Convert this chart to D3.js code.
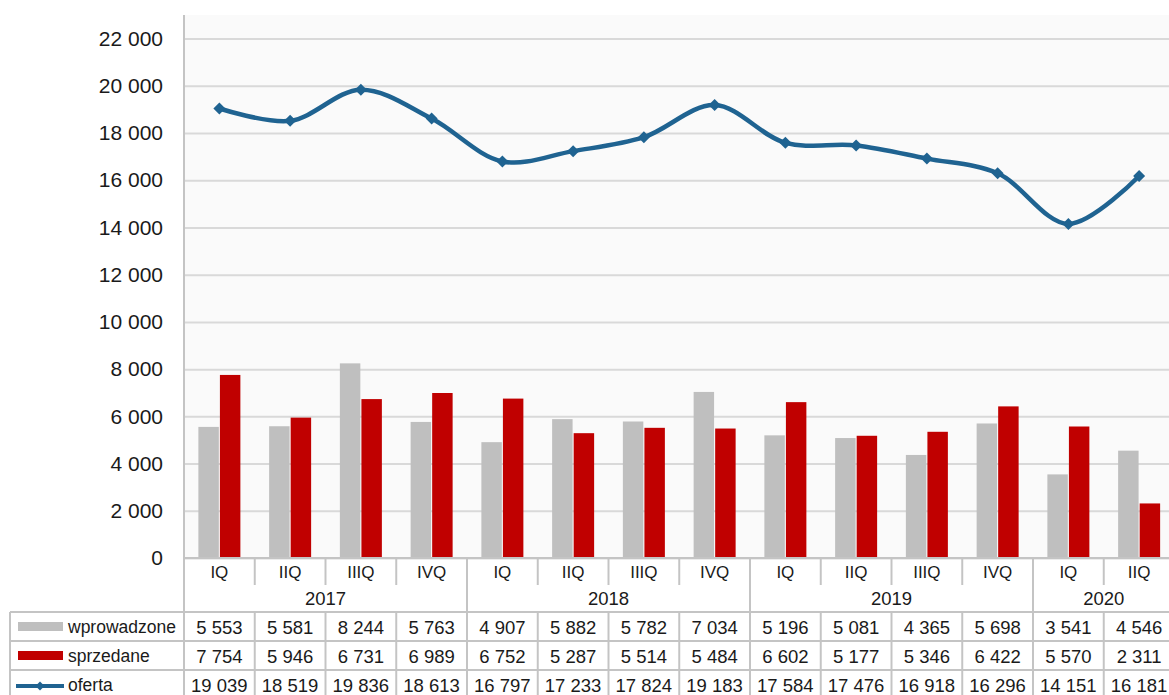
<!DOCTYPE html>
<meta charset="utf-8">
<html>
<head>
    <script src="https://d3js.org/d3.v7.min.js"></script>
    <style>
        body { margin: 0; background: #fff; overflow: hidden; }
        text { font-family: "Liberation Sans", Arial, sans-serif; fill: #1a1a1a; }
    </style>
</head>
<body>
<script>
    // data
    var quarters = ["IQ", "IIQ", "IIIQ", "IVQ", "IQ", "IIQ", "IIIQ", "IVQ", "IQ", "IIQ", "IIIQ", "IVQ", "IQ", "IIQ"];
    var years = [
        {label: "2017", n: 4},
        {label: "2018", n: 4},
        {label: "2019", n: 4},
        {label: "2020", n: 2}
    ];
    var wprowadzone = [5553, 5581, 8244, 5763, 4907, 5882, 5782, 7034, 5196, 5081, 4365, 5698, 3541, 4546];
    var sprzedane = [7754, 5946, 6731, 6989, 6752, 5287, 5514, 5484, 6602, 5177, 5346, 6422, 5570, 2311];
    var oferta = [19039, 18519, 19836, 18613, 16797, 17233, 17824, 19183, 17584, 17476, 16918, 16296, 14151, 16181];
    var yTicks = [0, 2000, 4000, 6000, 8000, 10000, 12000, 14000, 16000, 18000, 20000, 22000];

    var width = 1169, height = 695;
    var plot = {left: 184, right: 1174.5, top: 15, bottom: 558};
    var rowH = 29;
    var tableTop = 612;
    var gridCol = "#d9d9d9", borderCol = "#c4c4c4";
    var grey = "#bfbfbf", red = "#c00000", blue = "#1f6391";

    var fmt = function(v) { return d3.format(",")(v).replace(/,/g, " "); };

    var svg = d3.select("body").append("svg")
        .attr("width", width)
        .attr("height", height);

    var idx = d3.range(quarters.length);

    var x = d3.scaleBand()
        .domain(idx)
        .range([plot.left, plot.right]);

    var x1 = d3.scaleBand()
        .domain(["w", "s"])
        .range([x.bandwidth() / 2 - 21, x.bandwidth() / 2 + 21])
        .paddingInner(0.05);

    var y = d3.scaleLinear()
        .domain([0, 23000])
        .range([plot.bottom, plot.top]);

    // plot background
    svg.append("rect")
        .attr("x", plot.left)
        .attr("y", plot.top)
        .attr("width", plot.right - plot.left)
        .attr("height", plot.bottom - plot.top)
        .attr("fill", "#fafafa");

    // gridlines + y labels
    var yAxis = d3.axisLeft(y)
        .tickValues(yTicks)
        .tickSize(-(plot.right - plot.left))
        .tickPadding(21)
        .tickFormat(fmt);

    var gy = svg.append("g")
        .attr("transform", `translate(${plot.left},0)`)
        .call(yAxis);
    gy.select(".domain").remove();
    gy.selectAll(".tick line")
        .attr("stroke", gridCol)
        .attr("stroke-width", 2);
    gy.selectAll(".tick text")
        .attr("font-size", 21)
        .attr("fill", "#1a1a1a");

    // bars
    var groups = svg.append("g").selectAll("g")
        .data(idx)
        .join("g")
        .attr("transform", function(i) { return `translate(${x(i)},0)`; });

    groups.append("rect")
        .attr("x", x1("w"))
        .attr("width", x1.bandwidth())
        .attr("y", function(i) { return y(wprowadzone[i]); })
        .attr("height", function(i) { return y(0) - y(wprowadzone[i]); })
        .attr("fill", grey);

    groups.append("rect")
        .attr("x", x1("s"))
        .attr("width", x1.bandwidth())
        .attr("y", function(i) { return y(sprzedane[i]); })
        .attr("height", function(i) { return y(0) - y(sprzedane[i]); })
        .attr("fill", red);

    // smooth line
    var cx = function(i) { return x(i) + x.bandwidth() / 2; };
    svg.append("path")
        .datum(idx)
        .attr("fill", "none")
        .attr("stroke", blue)
        .attr("stroke-width", 4.5)
        .attr("d", d3.line()
            .curve(d3.curveCatmullRom.alpha(0.5))
            .x(cx)
            .y(function(i) { return y(oferta[i]); }));

    // diamond = square turned 45deg
    svg.append("g").selectAll("path")
        .data(idx)
        .join("path")
        .attr("d", d3.symbol().type(d3.symbolSquare).size(72))
        .attr("transform", function(i) { return `translate(${cx(i)},${y(oferta[i])}) rotate(45)`; })
        .attr("fill", blue);

    // left axis line and baseline
    svg.append("line")
        .attr("x1", plot.left).attr("x2", plot.left)
        .attr("y1", plot.top).attr("y2", height)
        .attr("stroke", borderCol).attr("stroke-width", 2);
    svg.append("line")
        .attr("x1", plot.left).attr("x2", width)
        .attr("y1", plot.bottom).attr("y2", plot.bottom)
        .attr("stroke", borderCol).attr("stroke-width", 2);

    // quarter row
    var t = svg.append("g");
    t.selectAll(".q")
        .data(idx)
        .join("text")
        .attr("x", cx)
        .attr("y", 578)
        .attr("text-anchor", "middle")
        .attr("font-size", 17)
        .text(function(i) { return quarters[i]; });

    t.selectAll(".qsep")
        .data(idx.slice(1))
        .join("line")
        .attr("x1", function(i) { return x(i); })
        .attr("x2", function(i) { return x(i); })
        .attr("y1", plot.bottom)
        .attr("y2", 585)
        .attr("stroke", borderCol).attr("stroke-width", 2);

    // year row
    var start = 0;
    years.forEach(function(yr) {
        var x0 = x(start), xe = x0 + yr.n * x.bandwidth();
        t.append("text")
            .attr("x", (x0 + xe) / 2)
            .attr("y", 605)
            .attr("text-anchor", "middle")
            .attr("font-size", 18.5)
            .text(yr.label);
        t.append("line")
            .attr("x1", xe).attr("x2", xe)
            .attr("y1", plot.bottom).attr("y2", tableTop)
            .attr("stroke", borderCol).attr("stroke-width", 2);
        start += yr.n;
    });

    // data table
    var rows = [
        {name: "wprowadzone", values: wprowadzone, key: "bar", color: grey},
        {name: "sprzedane", values: sprzedane, key: "bar", color: red},
        {name: "oferta", values: oferta, key: "line", color: blue}
    ];

    rows.forEach(function(r, k) {
        var top = tableTop + k * rowH;
        t.append("line")
            .attr("x1", 10).attr("x2", width)
            .attr("y1", top).attr("y2", top)
            .attr("stroke", borderCol).attr("stroke-width", 2);
        t.selectAll(null)
            .data(idx.slice(1))
            .join("line")
            .attr("x1", function(i) { return x(i); })
            .attr("x2", function(i) { return x(i); })
            .attr("y1", top).attr("y2", top + rowH)
            .attr("stroke", borderCol).attr("stroke-width", 2);
        t.selectAll(null)
            .data(idx)
            .join("text")
            .attr("x", cx)
            .attr("y", top + 21.5)
            .attr("text-anchor", "middle")
            .attr("font-size", 18.5)
            .text(function(i) { return fmt(r.values[i]); });

        if (r.key === "bar") {
            t.append("rect")
                .attr("x", 18).attr("y", top + 10)
                .attr("width", 45).attr("height", 9)
                .attr("fill", r.color);
        } else {
            t.append("line")
                .attr("x1", 16).attr("x2", 64)
                .attr("y1", top + 16).attr("y2", top + 16)
                .attr("stroke", r.color).attr("stroke-width", 4);
            t.append("path")
                .attr("d", d3.symbol().type(d3.symbolSquare).size(40))
                .attr("transform", `translate(40,${top + 16}) rotate(45)`)
                .attr("fill", r.color);
        }
        t.append("text")
            .attr("x", 68)
            .attr("y", top + 21)
            .attr("font-size", 17.5)
            .text(r.name);
    });

    t.append("line")
        .attr("x1", 10).attr("x2", 10)
        .attr("y1", tableTop).attr("y2", height)
        .attr("stroke", borderCol).attr("stroke-width", 2);
</script>
</body>
</html>
